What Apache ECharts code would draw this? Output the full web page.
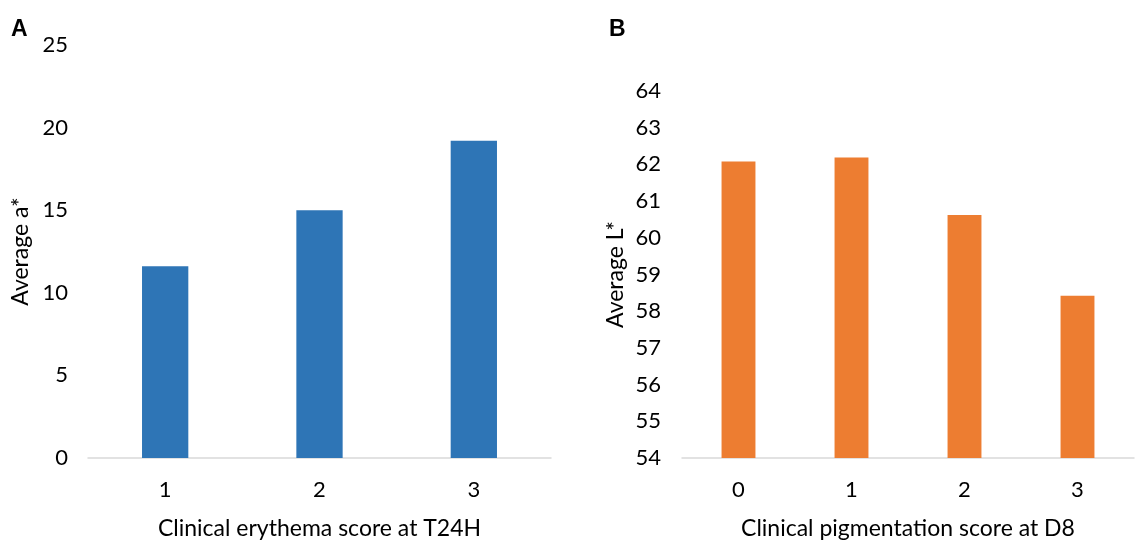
<!DOCTYPE html>
<html>
<head>
<meta charset="utf-8">
<script src="https://cdn.jsdelivr.net/npm/echarts@6/dist/echarts.min.js"></script>
<style>html,body{margin:0;padding:0;background:#fff}#c{width:1136px;height:545px}</style>
</head>
<body>
<div id="c"></div>
<script>
const catsA = ['1', '2', '3'];
const valsA = [11.6, 15.0, 19.2];
const catsB = ['0', '1', '2', '3'];
const valsB = [62.08, 62.19, 60.62, 58.42];
const titleA = 'Clinical erythema score at T24H';
const titleB = 'Clinical pigmentation score at D8';
const yNameA = 'Average a*';
const yNameB = 'Average L*';

const FONT = 'Lato';
const lbl = {fontFamily: FONT, fontSize: 22, color: '#000'};
const nm = {fontFamily: FONT, fontSize: 23, color: '#000'};

const chart = echarts.init(document.getElementById('c'), null, {renderer: 'canvas'});
chart.setOption({
  animation: false,
  backgroundColor: '#fff',
  title: [
    {text: 'A', left: 6, top: 13, textStyle: {fontFamily: 'Liberation Sans', fontWeight: 'bold', fontSize: 23, color: '#000'}},
    {text: 'B', left: 604, top: 13, textStyle: {fontFamily: 'Liberation Sans', fontWeight: 'bold', fontSize: 23, color: '#000'}}
  ],
  grid: [
    {left: 88, right: 585, top: 45, bottom: 82, containLabel: false},
    {left: 682, right: 2, top: 91, bottom: 82, containLabel: false}
  ],
  xAxis: [
    {type: 'category', gridIndex: 0, data: catsA,
     axisLine: {lineStyle: {color: '#D9D9D9', width: 1.5}}, axisTick: {show: false},
     axisLabel: Object.assign({margin: 21}, lbl),
     name: titleA, nameLocation: 'middle', nameGap: 59, nameTextStyle: nm},
    {type: 'category', gridIndex: 1, data: catsB,
     axisLine: {lineStyle: {color: '#D9D9D9', width: 1.5}}, axisTick: {show: false},
     axisLabel: Object.assign({margin: 21}, lbl),
     name: titleB, nameLocation: 'middle', nameGap: 59, nameTextStyle: nm}
  ],
  yAxis: [
    {type: 'value', gridIndex: 0, min: 0, max: 25, interval: 5,
     axisLine: {show: false}, axisTick: {show: false}, splitLine: {show: false},
     axisLabel: Object.assign({margin: 20}, lbl),
     name: yNameA, nameLocation: 'middle', nameGap: 56, nameTextStyle: nm},
    {type: 'value', gridIndex: 1, min: 54, max: 64, interval: 1,
     axisLine: {show: false}, axisTick: {show: false}, splitLine: {show: false},
     axisLabel: Object.assign({margin: 21}, lbl),
     name: yNameB, nameLocation: 'middle', nameGap: 55, nameTextStyle: nm}
  ],
  series: [
    {type: 'bar', xAxisIndex: 0, yAxisIndex: 0, data: valsA, barWidth: '30%',
     itemStyle: {color: '#2E75B6'}},
    {type: 'bar', xAxisIndex: 1, yAxisIndex: 1, data: valsB, barWidth: '30%',
     itemStyle: {color: '#ED7D31'}}
  ]
});
</script>
</body>
</html>
